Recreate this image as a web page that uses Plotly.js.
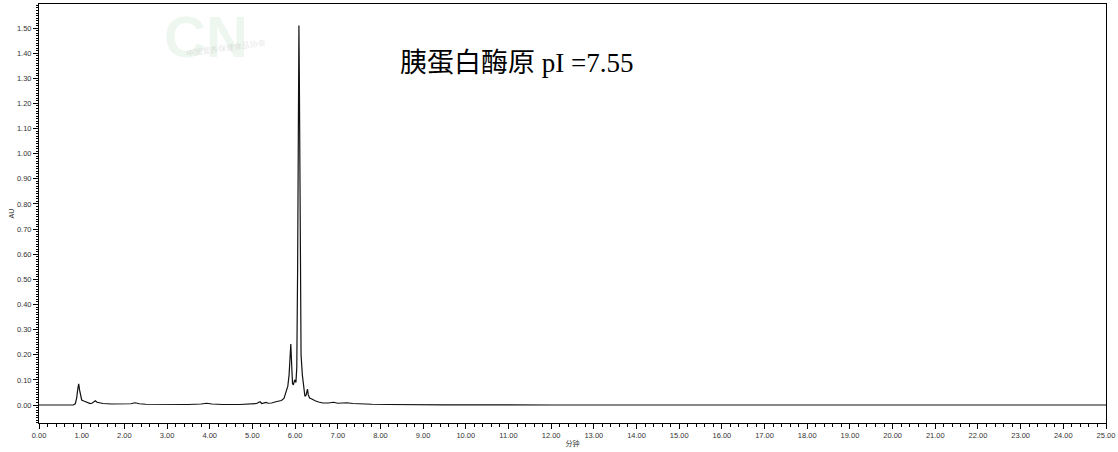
<!DOCTYPE html>
<html>
<head>
<meta charset="utf-8">
<script src="https://cdn.plot.ly/plotly-3.0.1.min.js"></script>
<style>html,body{margin:0;padding:0;background:#fff;}#chart{width:1118px;height:452px;}</style>
</head>
<body>
<div id="chart"></div>
<script>
const timeMin = [0, 0.5, 0.8, 0.85, 0.88, 0.91, 0.93, 0.95, 0.98, 1.0, 1.05, 1.1, 1.15, 1.2, 1.25, 1.29, 1.32, 1.36, 1.42, 1.5, 1.7, 2.0, 2.15, 2.25, 2.35, 2.5, 3.0, 3.5, 3.8, 3.93, 4.05, 4.3, 4.7, 5.0, 5.1, 5.15, 5.18, 5.22, 5.28, 5.32, 5.37, 5.45, 5.55, 5.62, 5.68, 5.74, 5.79, 5.83, 5.86, 5.88, 5.90, 5.92, 5.94, 5.96, 5.99, 6.02, 6.04, 6.06, 6.08, 6.09, 6.10, 6.12, 6.14, 6.17, 6.2, 6.23, 6.26, 6.29, 6.31, 6.34, 6.38, 6.42, 6.47, 6.55, 6.65, 6.78, 6.9, 7.0, 7.1, 7.22, 7.35, 7.5, 7.8, 8.2, 8.8, 9.5, 12, 25];
const absorbanceAU = [0, 0, 0, 0.005, 0.025, 0.065, 0.084, 0.06, 0.025, 0.02, 0.016, 0.012, 0.008, 0.006, 0.008, 0.014, 0.017, 0.011, 0.008, 0.006, 0.004, 0.003, 0.005, 0.009, 0.005, 0.003, 0.002, 0.002, 0.004, 0.007, 0.004, 0.002, 0.002, 0.004, 0.006, 0.011, 0.013, 0.006, 0.008, 0.010, 0.007, 0.008, 0.013, 0.016, 0.018, 0.026, 0.05, 0.075, 0.12, 0.19, 0.243, 0.16, 0.085, 0.08, 0.10, 0.09, 0.15, 0.55, 1.25, 1.51, 1.3, 0.6, 0.2, 0.12, 0.06, 0.035, 0.04, 0.063, 0.04, 0.028, 0.025, 0.02, 0.017, 0.012, 0.008, 0.008, 0.011, 0.007, 0.008, 0.009, 0.006, 0.004, 0.003, 0.002, 0.001, 0.0005, 0, 0];
const labelText = "胰蛋白酶原 pI =7.55";
const xTitle = "分钟";
const yTitle = "AU";

const tickFont = {family: "Liberation Sans, Arial, sans-serif", size: 7.5, color: "#333"};
const trace = {
  x: timeMin, y: absorbanceAU, type: "scatter", mode: "lines",
  line: {color: "#111", width: 1.2}, hoverinfo: "skip"
};
const layout = {
  width: 1118, height: 452,
  margin: {l: 39, r: 12, t: 4, b: 29},
  paper_bgcolor: "#fff", plot_bgcolor: "#fff",
  showlegend: false,
  xaxis: {
    range: [0, 25], showgrid: false, zeroline: false,
    showline: true, mirror: true, linecolor: "#000", linewidth: 1,
    ticks: "outside", ticklen: 5, tickcolor: "#000", dtick: 1, tick0: 0,
    tickformat: ".2f", tickfont: tickFont,
    minor: {dtick: 0.2, ticks: "outside", ticklen: 3, tickcolor: "#000", showgrid: false},
    title: {text: xTitle, font: {family: "Noto Sans CJK SC, sans-serif", size: 7, color: "#333"}, standoff: 2}
  },
  yaxis: {
    range: [-0.0716, 1.5958], showgrid: false, zeroline: false,
    showline: true, mirror: true, linecolor: "#000", linewidth: 1,
    ticks: "outside", ticklen: 5, tickcolor: "#000", dtick: 0.1, tick0: 0,
    tickformat: ".2f", tickfont: tickFont,
    minor: {dtick: 0.01, ticks: "outside", ticklen: 2, tickcolor: "#000", showgrid: false},
    title: {text: yTitle, font: {family: "Liberation Sans, Arial, sans-serif", size: 7, color: "#333"}, standoff: 1}
  },
  annotations: [
    {xref: "paper", yref: "paper", x: 0.115, y: 1.005, xanchor: "left", yanchor: "top",
     text: "<b>CN</b>", showarrow: false,
     font: {family: "Liberation Sans, Arial, sans-serif", size: 58, color: "rgba(70,160,90,0.09)"}},
    {xref: "paper", yref: "paper", x: 0.175, y: 0.895, xanchor: "center", yanchor: "middle",
     text: "中国营养保健食品协会", showarrow: false, textangle: -8,
     font: {family: "Noto Sans CJK SC, sans-serif", size: 8, color: "rgba(150,150,150,0.25)"}},
    {xref: "x", yref: "y", x: 8.41, y: 1.361, xanchor: "left", yanchor: "middle",
     text: labelText, showarrow: false,
     font: {family: "Liberation Serif, Noto Sans CJK SC, serif", size: 27, color: "#000"}}
  ]
};
Plotly.newPlot("chart", [trace], layout, {displayModeBar: false, staticPlot: true});
</script>
</body>
</html>
